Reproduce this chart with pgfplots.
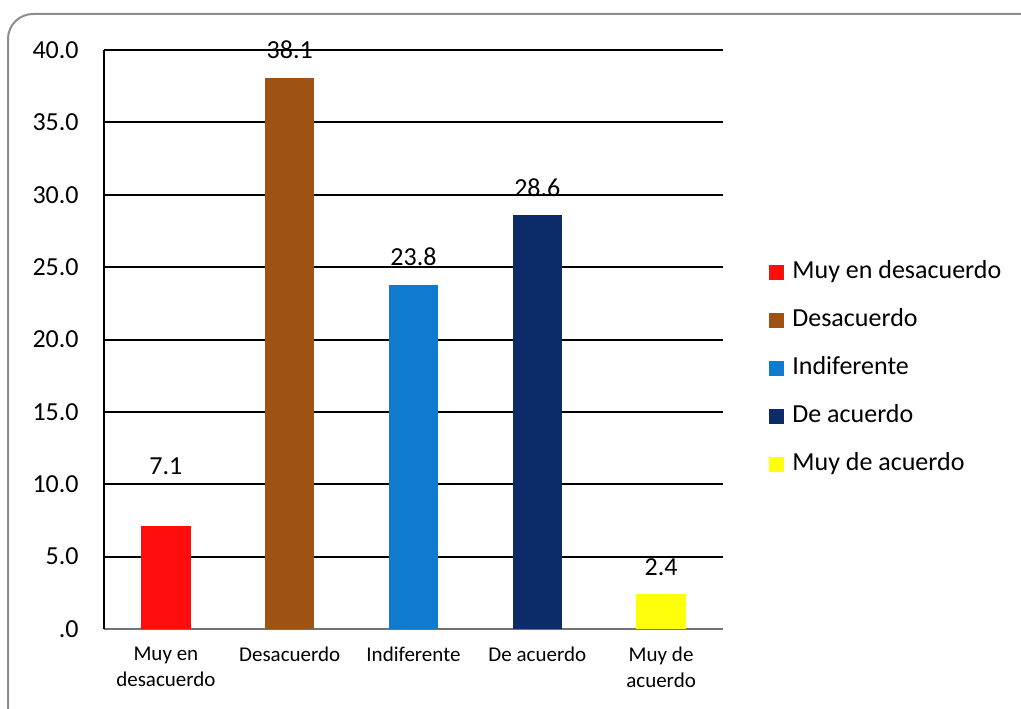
\documentclass[border=0pt]{standalone}
\usepackage{pgfplots}
\pgfplotsset{compat=1.18}
\usepackage{fontspec}
\setmainfont{Carlito}
\definecolor{cRed}{HTML}{FF0D0D}
\definecolor{cBrown}{HTML}{9E5213}
\definecolor{cBlue}{HTML}{0E7BCF}
\definecolor{cNavy}{HTML}{0E2B69}
\definecolor{cYellow}{HTML}{FFFF0A}
\definecolor{cFrame}{HTML}{8C8C8C}
\pgfplotsset{
  sq/.style={legend image code/.code={\fill[##1,draw=none] (0pt,-3.75pt) rectangle (7.5pt,3.75pt);}},
}
\begin{document}
\begin{tikzpicture}
\useasboundingbox (0,0) rectangle (510.5pt,354pt);
\draw[cFrame, line width=1pt, rounded corners=12.5pt] (4pt,-20pt) rectangle (530pt,347pt);
\begin{axis}[
  at={(52pt,39.5pt)}, anchor=south west,
  scale only axis, width=309.5pt, height=289.5pt,
  xmin=-0.5, xmax=4.5, ymin=0, ymax=40,
  axis lines*=left,
  x axis line style={draw=black!55, line width=1pt},
  y axis line style={draw=black, line width=1pt},
  ytick={0,5,10,15,20,25,30,35,40},
  yticklabels={.0,5.0,10.0,15.0,20.0,25.0,30.0,35.0,40.0},
  xtick={0,1,2,3,4},
  xticklabels={{Muy en\\desacuerdo},Desacuerdo,Indiferente,De acuerdo,{Muy de\\acuerdo}},
  major tick length=0pt,
  ymajorgrids, grid style={black, line width=1pt},
  yticklabel style={font=\fontsize{13}{15.6}\selectfont, anchor=east, inner sep=0pt, xshift=-12.5pt},
  xticklabel style={font=\fontsize{10.5}{13}\selectfont, align=center, anchor=north, inner sep=0pt, yshift=-9pt},
  /pgf/number format/assume math mode=true,
  /pgf/number format/fixed, /pgf/number format/fixed zerofill, /pgf/number format/precision=1,
  nodes near coords,
  nodes near coords style={font=\fontsize{13}{15.6}\selectfont, anchor=south, inner sep=0pt, yshift=9pt},
  legend style={draw=none, fill=none, inner sep=0pt, at={(1.0743,0.4505)}, anchor=west,
     font=\fontsize{13}{15.6}\selectfont, row sep=8pt,
     nodes={text height=9pt, text depth=3pt, inner sep=2pt},
     /tikz/every odd column/.append style={column sep=2pt}},
  legend cell align=left,
  clip=false,
]
\addplot[ybar, bar width=0.4, bar shift=0pt, fill=cRed, draw=none, sq,
  every node near coord/.append style={yshift=16.5pt}] coordinates {(0,7.1)};
\addlegendentry{Muy en desacuerdo}
\addplot[ybar, bar width=0.4, bar shift=0pt, fill=cBrown, draw=none, sq] coordinates {(1,38.1)};
\addlegendentry{Desacuerdo}
\addplot[ybar, bar width=0.4, bar shift=0pt, fill=cBlue, draw=none, sq] coordinates {(2,23.8)};
\addlegendentry{Indiferente}
\addplot[ybar, bar width=0.4, bar shift=0pt, fill=cNavy, draw=none, sq] coordinates {(3,28.6)};
\addlegendentry{De acuerdo}
\addplot[ybar, bar width=0.4, bar shift=0pt, fill=cYellow, draw=none, sq] coordinates {(4,2.4)};
\addlegendentry{Muy de acuerdo}
\end{axis}
\end{tikzpicture}
\end{document}
